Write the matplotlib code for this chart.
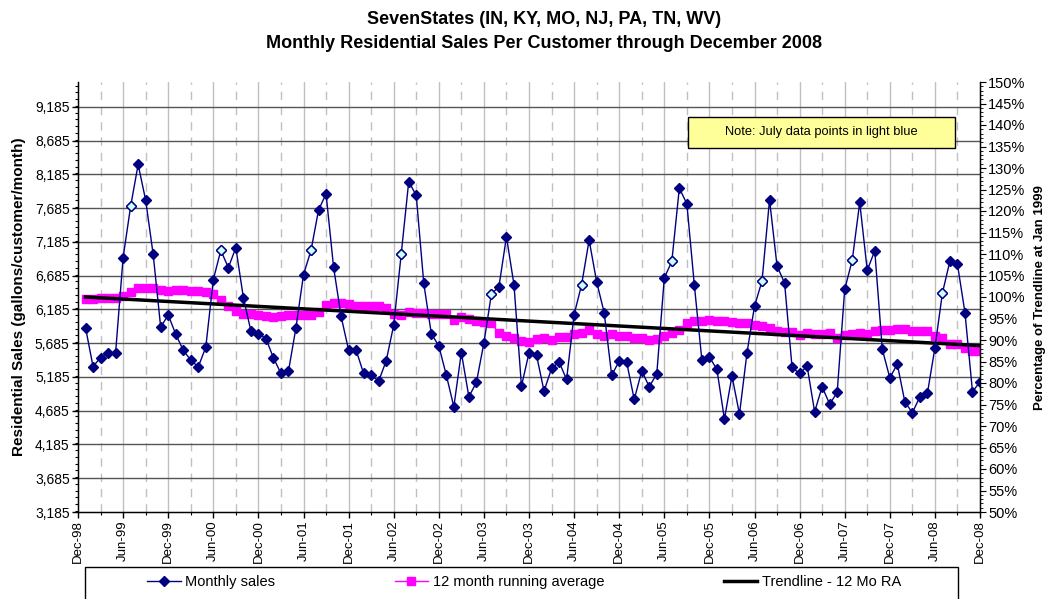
import numpy as np
import matplotlib
matplotlib.use("Agg")
import matplotlib.pyplot as plt
from matplotlib.patches import Rectangle
from matplotlib.ticker import FixedLocator, MultipleLocator, FuncFormatter

plt.rcParams['font.family'] = ['Liberation Sans', 'DejaVu Sans']

# monthly sales Jan-99 .. Dec-08 (gallons/customer/month)
monthly = [5917, 5340, 5473, 5543, 5543, 6953, 7712, 8333, 7805, 7002, 5922, 6105,
           5819, 5582, 5434, 5335, 5626, 6627, 7061, 6805, 7100, 6361, 5868, 5828,
           5755, 5469, 5237, 5271, 5917, 6701, 7061, 7657, 7899, 6814, 6085, 5582,
           5582, 5237, 5212, 5123, 5424, 5952, 7007, 8081, 7874, 6573, 5828, 5646,
           5212, 4744, 5547, 4892, 5104, 5690, 6415, 6524, 7263, 6553, 5050, 5543,
           5508, 4976, 5311, 5409, 5148, 6109, 6553, 7214, 6593, 6139, 5212, 5419,
           5400, 4852, 5276, 5040, 5232, 6652, 6898, 7983, 7751, 6543, 5434, 5483,
           5296, 4561, 5202, 4635, 5543, 6233, 6607, 7810, 6829, 6578, 5326, 5237,
           5345, 4670, 5040, 4783, 4956, 6484, 6913, 7771, 6765, 7056, 5597, 5173,
           5375, 4818, 4655, 4892, 4941, 5616, 6430, 6903, 6854, 6139, 4966, 5114]

# 12 month running average
running_avg = [6336, 6340, 6350, 6350, 6355, 6390, 6440, 6500, 6505, 6500, 6480, 6460,
               6475, 6478, 6460, 6455, 6450, 6415, 6330, 6235, 6160, 6125, 6120, 6100,
               6085, 6080, 6090, 6100, 6105, 6104, 6110, 6150, 6250, 6285, 6280, 6267,
               6243, 6240, 6238, 6230, 6200, 6118, 6104, 6150, 6135, 6130, 6115, 6115,
               6115, 6030, 6075, 6045, 6010, 6000, 5980, 5832, 5790, 5765, 5720, 5705,
               5745, 5765, 5740, 5775, 5780, 5815, 5840, 5885, 5825, 5795, 5815, 5790,
               5790, 5765, 5765, 5735, 5750, 5790, 5840, 5885, 5985, 6010, 6020, 6035,
               6020, 6010, 6005, 5980, 5985, 5960, 5935, 5910, 5860, 5847, 5847, 5812,
               5837, 5822, 5815, 5835, 5765, 5812, 5827, 5835, 5822, 5871, 5886, 5886,
               5896, 5900, 5861, 5861, 5861, 5797, 5763, 5680, 5680, 5615, 5565, 5565]

# linear trendline of the running average (first and last month)
trend_ends = [6370, 5650]
trend_base = 6370  # trendline value at Jan 1999

tick_labels = ['Dec-98', 'Jun-99', 'Dec-99', 'Jun-00', 'Dec-00', 'Jun-01', 'Dec-01',
               'Jun-02', 'Dec-02', 'Jun-03', 'Dec-03', 'Jun-04', 'Dec-04', 'Jun-05',
               'Dec-05', 'Jun-06', 'Dec-06', 'Jun-07', 'Dec-07', 'Jun-08', 'Dec-08']

n = len(monthly)
x = np.arange(n)
july = x[6::12]

navy = '#000080'
fig = plt.figure(figsize=(10.47, 5.99), dpi=100)
ax = fig.add_axes([78/1047, 1-512/599, 902/1047, 430/599])

# gridlines
major_x = np.arange(-1, n, 6)
minor_x = np.arange(2, n, 6)
for v in major_x[1:-1]:
    ax.axvline(v, color='#c0c0c0', lw=1, zorder=0)
for v in minor_x:
    ax.axvline(v, color='#c0c0c0', lw=1, ls=(0, (6, 5)), zorder=0)
yt = np.arange(3185, 9186, 500)
for v in yt[1:]:
    ax.axhline(v, color='#555555', lw=1, zorder=0)

ax.plot(x, monthly, color=navy, lw=1, marker='D', ms=5.5, mfc=navy, mec=navy, zorder=3,
        label='Monthly sales')
ax.plot(july, np.array(monthly)[july], ls='none', marker='D', ms=5.5, mfc='#ccffff',
        mec=navy, mew=1, zorder=4)
ax.plot(x, running_avg, color='#ff00ff', lw=1, marker='s', ms=5.5, mfc='#ff00ff',
        mec='#ff00ff', zorder=2, label='12 month running average')
ax.plot([0, n-1], trend_ends, color='black', lw=2.5, zorder=2,
        label='Trendline - 12 Mo RA')

ax.set_xlim(-1, n-1)
ax.set_ylim(0.5*trend_base, 1.5*trend_base)
ax.set_yticks(yt)
ax.yaxis.set_major_formatter(FuncFormatter(lambda v, p: '{:,.0f}'.format(v)))
ax.yaxis.set_minor_locator(MultipleLocator(100))
ax.xaxis.set_major_locator(FixedLocator(major_x))
ax.set_xticklabels(tick_labels, rotation=90)
ax.xaxis.set_minor_locator(FixedLocator(minor_x))
ax.tick_params(axis='y', which='major', labelsize=10, length=4, width=1, pad=2)
ax.tick_params(axis='x', which='major', labelsize=9.5, length=4, width=1, pad=2)
ax.tick_params(axis='both', which='minor', length=2.5, width=0.8)
for s in ax.spines.values():
    s.set_linewidth(1)
ax.spines['top'].set_visible(False)

ax2 = ax.twinx()
ax2.spines['top'].set_visible(False)
ax2.set_ylim(50, 150)
ax2.set_yticks(np.arange(50, 151, 5))
ax2.yaxis.set_major_formatter(FuncFormatter(lambda v, p: '%d%%' % v))
ax2.yaxis.set_minor_locator(MultipleLocator(1))
ax2.tick_params(axis='y', which='major', labelsize=10.5, length=4, pad=2)
ax2.tick_params(axis='y', which='minor', length=2)

# note box
ax.add_patch(Rectangle((0.676, 0.847), 0.296, 0.072, transform=ax.transAxes,
                       facecolor='#ffff99', edgecolor='black', lw=1, zorder=5))
ax.text(0.824, 0.883, 'Note: July data points in light blue', transform=ax.transAxes,
        ha='center', va='center', fontsize=9.3, zorder=6)

fig.text(0.52, 0.968, 'SevenStates (IN, KY, MO, NJ, PA, TN, WV)', ha='center',
         va='center', fontsize=13, fontweight='bold')
fig.text(0.52, 0.927, 'Monthly Residential Sales Per Customer through December 2008',
         ha='center', va='center', fontsize=13, fontweight='bold')
fig.text(0.018, 0.504, 'Residential Sales (gallons/customer/month)', rotation=90,
         ha='center', va='center', fontsize=11, fontweight='bold')
fig.text(0.993, 0.504, 'Percentage of Trendline at Jan 1999', rotation=90,
         ha='center', va='center', fontsize=9.5, fontweight='bold')

# legend box (runs off the bottom edge like the original)
fig.patches.append(Rectangle((85/1047, -0.02), 873/1047, 1-567/599+0.02,
                             transform=fig.transFigure, facecolor='white',
                             edgecolor='black', lw=1))
h, l = ax.get_legend_handles_labels()
fig.legend(h, l, loc='center', bbox_to_anchor=(524/1047, 1-582/599), ncol=3,
           fontsize=10.5, frameon=False, handlelength=2.3, handletextpad=0.3,
           columnspacing=8.2)

fig.savefig('out.png', dpi=100)
